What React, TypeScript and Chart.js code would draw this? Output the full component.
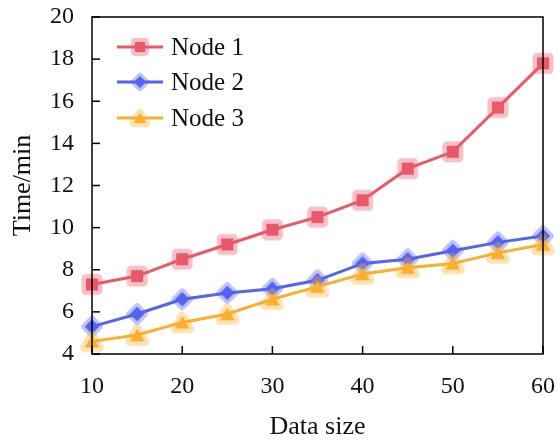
import React, { useEffect, useRef } from "react";
import { Chart, registerables } from "chart.js";

Chart.register(...registerables);

const dataSizes = [10, 15, 20, 25, 30, 35, 40, 45, 50, 55, 60];
const node1 = [7.3, 7.7, 8.5, 9.2, 9.9, 10.5, 11.3, 12.8, 13.6, 15.7, 17.8];
const node2 = [5.3, 5.9, 6.6, 6.9, 7.1, 7.5, 8.3, 8.5, 8.9, 9.3, 9.6];
const node3 = [4.6, 4.9, 5.5, 5.9, 6.6, 7.2, 7.8, 8.1, 8.3, 8.8, 9.2];
const seriesNames = ["Node 1", "Node 2", "Node 3"];
const xTicks = [10, 20, 30, 40, 50, 60];
const yTicks = [4, 6, 8, 10, 12, 14, 16, 18, 20];

const FONT = "'Liberation Serif', 'Times New Roman', serif";
const colors = ["#e8596a", "#5563f0", "#fbb02d"];
const haloAlpha = [0.38, 0.38, 0.36];
const shapes = ["square", "diamond", "triangle"];

function shapePath(ctx: CanvasRenderingContext2D, shape: string, c: number, s: number) {
  ctx.beginPath();
  if (shape === "square") {
    const h = 6 * s;
    ctx.rect(c - h, c - h, 2 * h, 2 * h);
  } else if (shape === "diamond") {
    const h = 7.2 * s;
    ctx.moveTo(c, c - h);
    ctx.lineTo(c + h, c);
    ctx.lineTo(c, c + h);
    ctx.lineTo(c - h, c);
    ctx.closePath();
  } else {
    const w = 7.4 * s;
    const h = 6.3 * s;
    ctx.moveTo(c, c - h);
    ctx.lineTo(c + w, c + h);
    ctx.lineTo(c - w, c + h);
    ctx.closePath();
  }
}

function makeMarker(i: number, s: number): HTMLCanvasElement {
  const size = 34;
  const c = size / 2;
  const halo = document.createElement("canvas");
  halo.width = size;
  halo.height = size;
  const hctx = halo.getContext("2d")!;
  shapePath(hctx, shapes[i], c, s);
  hctx.fillStyle = colors[i];
  hctx.strokeStyle = colors[i];
  hctx.lineJoin = "round";
  hctx.lineWidth = (i === 1 ? 7 : 9) * s;
  hctx.fill();
  hctx.stroke();
  const out = document.createElement("canvas");
  out.width = size;
  out.height = size;
  const octx = out.getContext("2d")!;
  octx.globalAlpha = haloAlpha[i];
  octx.drawImage(halo, 0, 0);
  octx.globalAlpha = 1;
  shapePath(octx, shapes[i], c, s);
  octx.fillStyle = colors[i];
  octx.fill();
  return out;
}

export default function App() {
  const ref = useRef<HTMLCanvasElement>(null);
  useEffect(() => {
    document.body.style.margin = "0";
    const markers = [0, 1, 2].map((i) => makeMarker(i, 1));
    const legendMarkers = [0, 1, 2].map((i) => makeMarker(i, 0.85));

    const framePlugin = {
      id: "frame",
      afterDraw(chart: any) {
        const { ctx, chartArea: a, scales } = chart;
        ctx.save();
        ctx.strokeStyle = "#000";
        ctx.lineWidth = 1.5;
        ctx.strokeRect(a.left, a.top, a.right - a.left, a.bottom - a.top);
        xTicks.forEach((v) => {
          const x = scales.x.getPixelForValue(v);
          ctx.beginPath();
          ctx.moveTo(x, a.bottom);
          ctx.lineTo(x, a.bottom - 8);
          ctx.stroke();
        });
        yTicks.forEach((v) => {
          const y = scales.y.getPixelForValue(v);
          ctx.beginPath();
          ctx.moveTo(a.left, y);
          ctx.lineTo(a.left + 8, y);
          ctx.stroke();
        });
        const rows = [47, 82, 118];
        rows.forEach((ry, i) => {
          ctx.strokeStyle = colors[i];
          ctx.lineWidth = 3;
          ctx.beginPath();
          ctx.moveTo(117, ry);
          ctx.lineTo(163, ry);
          ctx.stroke();
          const m = legendMarkers[i];
          ctx.drawImage(m, 140 - m.width / 2, ry - m.height / 2);
          ctx.fillStyle = "#111";
          ctx.font = `25px ${FONT}`;
          ctx.textBaseline = "middle";
          ctx.textAlign = "left";
          ctx.fillText(seriesNames[i], 171, ry + 1);
        });
        ctx.restore();
      },
    };

    const mk = (label: string, data: number[], i: number) => ({
      label,
      data: data.map((v, k) => ({ x: dataSizes[k], y: v })),
      borderColor: colors[i],
      backgroundColor: colors[i],
      borderWidth: 3,
      pointStyle: markers[i],
      pointRadius: 10,
      tension: 0,
      clip: false,
      order: 3 - i,
    });
    const chart = new Chart(ref.current!, {
      type: "line",
      data: {
        datasets: [mk(seriesNames[0], node1, 0), mk(seriesNames[1], node2, 1), mk(seriesNames[2], node3, 2)],
      },
      options: {
        animation: false,
        responsive: false,
        layout: { padding: { top: 17, right: 15, left: 0, bottom: 0 } },
        plugins: { legend: { display: false }, tooltip: { enabled: false } },
        scales: {
          x: {
            type: "linear",
            min: 10,
            max: 60,
            afterBuildTicks: (s: any) => {
              s.ticks = xTicks.map((v) => ({ value: v }));
            },
            grid: { display: false, drawTicks: false },
            border: { display: false },
            ticks: { color: "#111", font: { family: FONT, size: 24 }, padding: 18, maxRotation: 0 },
            title: { display: true, text: "Data size", color: "#111", font: { family: FONT, size: 26, lineHeight: 1 }, padding: { top: 0, bottom: 0 } },
            afterFit: (s: any) => {
              s.height = 86;
              s.paddingLeft = 0;
              s.paddingRight = 0;
            },
          },
          y: {
            type: "linear",
            min: 4,
            max: 20,
            afterBuildTicks: (s: any) => {
              s.ticks = yTicks.map((v) => ({ value: v }));
            },
            grid: { display: false, drawTicks: false },
            border: { display: false },
            ticks: { color: "#111", font: { family: FONT, size: 24 }, padding: 18 },
            title: { display: true, text: "Time/min", color: "#111", font: { family: FONT, size: 26, lineHeight: 1 }, padding: { top: 10, bottom: 0 } },
            afterFit: (s: any) => {
              s.width = 92;
              s.paddingTop = 0;
              s.paddingBottom = 0;
            },
          },
        },
      } as any,
      plugins: [framePlugin],
    });
    return () => chart.destroy();
  }, []);
  return (
    <div style={{ width: 558, height: 440 }}>
      <canvas ref={ref} width={558} height={440} style={{ display: "block" }} />
    </div>
  );
}
